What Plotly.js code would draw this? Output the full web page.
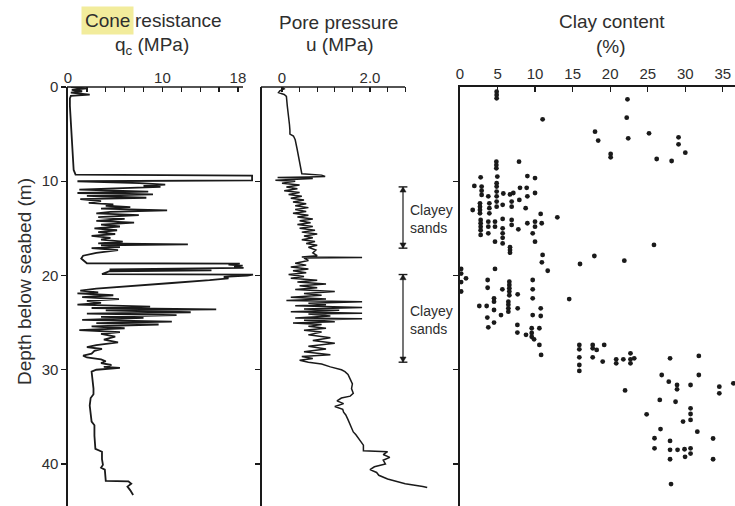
<!DOCTYPE html>
<html>
<head>
<meta charset="utf-8">
<script src="https://cdn.plot.ly/plotly-3.0.1.min.js"></script>
<style>
  html, body { margin: 0; padding: 0; background: #fff; }
  #chart { width: 735px; height: 506px; }
</style>
</head>
<body>
<div id="chart"></div>
<script>
// Cone resistance profile: depth (m) and qc (MPa)
var coneDepth = [0.0,0.15,0.3,0.45,0.6,0.8,0.95,1.2,2,3,4,5,6,7,8,8.8,9.3,9.4,9.9,10.0,
  10.2,10.35,10.5,10.6,10.75,10.9,11.1,11.25,11.4,11.55,11.75,11.9,12.1,12.3,12.45,12.6,12.75,12.9,
  13.1,13.25,13.4,13.6,13.8,14.0,14.2,14.4,14.6,14.8,15.0,15.2,15.4,15.6,15.8,16.0,16.2,16.4,16.6,
  16.7,16.8,17.0,17.1,17.3,17.6,17.9,18.2,18.5,18.7,18.75,18.85,18.95,19.1,19.2,19.35,19.45,19.55,
  19.85,19.9,20.0,20.15,20.3,20.5,20.8,21.1,21.4,21.6,21.8,21.9,22.1,22.3,22.5,22.7,22.9,23.1,23.3,
  23.45,23.6,23.7,23.9,24.05,24.2,24.4,24.5,24.7,24.9,25.05,25.2,25.4,25.6,25.8,26.0,26.2,26.5,26.8,
  27.1,27.4,27.6,27.8,28.0,28.3,28.5,28.7,28.9,29.1,29.3,29.5,29.7,29.8,30.0,30.2,31,32,32.6,33,33.8,
  34.5,35.5,35.9,37,38.4,38.7,39.5,40.1,40.4,40.6,41.8,41.85,42.1,42.4,42.8,43.3];
var coneQc = [0.3,2.0,0.4,1.5,0.3,2.3,0.3,0.2,0.2,0.25,0.3,0.35,0.4,0.45,0.5,0.6,0.8,19.5,19.5,1.0,
  7.6,10.3,8.0,9.8,5.0,1.2,8.5,1.0,9.0,2.0,8.3,1.3,3.5,2.2,4.8,4.0,6.6,3.5,
  10.5,4.5,3.0,7.5,3.2,6.0,3.0,7.0,3.5,5.5,2.8,5.2,3.2,5.0,2.5,4.5,3.5,5.8,3.2,
  12.7,3.5,5.5,2.5,5.3,3.0,1.6,1.4,1.7,2.0,18.2,17.0,18.5,17.6,18.6,4.4,15.2,4.4,
  3.6,19.6,19.0,16.5,17.0,15.0,11.0,6.5,3.0,1.3,3.2,1.0,4.8,1.5,5.4,2.0,3.5,1.0,8.7,
  2.5,15.7,4.0,13.0,2.0,11.5,3.5,8.0,1.5,11.0,3.0,9.6,2.5,6.0,1.2,5.5,3.5,5.0,3.8,
  5.3,3.0,2.0,3.6,2.8,2.5,1.6,2.0,3.5,4.0,3.5,4.6,3.8,5.5,3.0,2.5,2.6,2.7,2.7,2.4,2.3,
  2.4,2.5,2.8,2.8,2.9,3.6,3.6,3.7,3.5,3.9,4.0,6.4,6.7,6.3,6.6,6.9];

// Pore pressure profile: depth (m) and u (MPa)
var poreDepth = [0.0,0.2,0.4,0.6,0.8,1.0,2.0,3.0,4.0,4.6,5.0,5.2,5.6,6.5,7.5,8.4,9.2,9.35,9.5,9.55,
  9.6,9.7,9.8,9.9,10.0,10.2,10.4,10.6,10.8,11.0,11.2,11.4,11.6,11.8,12.0,12.2,12.4,12.6,12.8,13.0,
  13.2,13.4,13.6,13.8,14.0,14.2,14.4,14.6,14.8,15.0,15.2,15.4,15.6,15.8,16.0,16.2,16.4,16.6,16.8,
  17.0,17.3,17.6,17.9,18.05,18.1,18.15,18.4,18.7,18.9,19.1,19.3,19.5,19.7,19.9,20.1,20.3,20.5,20.7,
  20.9,21.1,21.3,21.5,21.7,21.9,22.1,22.3,22.5,22.65,22.8,22.95,23.1,23.2,23.4,23.55,23.7,23.85,
  24.0,24.1,24.3,24.5,24.6,24.75,24.9,25.05,25.2,25.4,25.6,25.8,26.0,26.3,26.6,26.9,27.2,27.5,
  27.8,28.1,28.4,28.6,28.8,29.0,29.2,29.4,29.7,30.0,30.2,30.5,31.0,31.5,32.0,32.5,32.8,33.0,33.3,
  33.6,33.9,34.2,34.5,34.8,35.3,35.8,36.3,36.6,36.9,37.4,38.0,38.6,38.7,39.0,39.3,39.6,40.0,40.3,
  40.6,40.9,41.2,41.6,42.1,42.4,42.5];
var poreU = [0.0,0.05,-0.05,-0.08,0.05,0.1,0.12,0.15,0.17,0.18,0.18,0.26,0.3,0.34,0.38,0.42,0.45,0.9,0.98,0.6,
  -0.1,0.7,0.2,-0.15,0.3,0.0,0.4,0.1,0.35,0.05,0.4,0.15,0.45,0.2,0.5,0.25,0.55,0.3,0.6,0.3,
  0.55,0.25,0.6,0.35,0.7,0.4,0.65,0.35,0.7,0.4,0.75,0.45,0.8,0.5,0.7,0.45,0.75,0.55,0.8,
  0.6,0.77,0.7,0.8,0.45,1.82,0.5,0.6,0.3,0.55,0.2,0.6,0.25,0.55,0.15,0.5,0.2,0.8,0.35,
  1.0,0.4,0.8,0.3,1.2,0.5,0.9,0.2,1.0,0.1,1.82,0.6,1.0,0.3,1.82,0.5,1.3,0.2,
  1.82,0.6,1.1,0.3,1.82,0.5,1.2,0.25,0.9,0.6,1.0,0.5,0.9,0.6,1.1,0.7,1.2,0.6,
  1.0,0.5,1.1,0.45,0.7,0.4,0.6,0.9,1.1,1.35,1.43,1.5,1.55,1.6,1.58,1.62,1.55,1.35,1.25,
  1.4,1.2,1.38,1.4,1.45,1.5,1.55,1.6,1.62,1.68,1.75,1.85,1.85,2.4,2.3,2.45,2.3,2.35,2.1,
  2.0,2.15,2.2,2.4,2.8,3.2,3.3];

// Clay content samples: depth (m) and clay (%)
var clayDepth = [0.5,0.85,1.2,3.43,1.31,3.25,5.45,4.74,5.69,7.1,7.46,4.92,7.64,7.85,5.34,6.08,6.97,
  7.92,7.92,8.28,8.63,9.58,9.5,9.45,9.66,10.5,10.57,11.0,11.45,10.2,10.57,11.1,11.6,11.6,11.3,11.4,
  11.25,10.7,10.7,11.6,11.25,11.98,
  13.05,12.34,12.7,13.05,13.4,12.34,12.86,13.4,12.16,12.7,12.5,12.16,12.7,12.86,13.47,13.83,
  14.1,14.46,14.82,15.2,15.7,14.29,14.82,15.53,14.29,14.82,14.0,15.0,15.53,16.0,16.6,14.1,14.64,
  15.1,14.46,15.53,14.29,14.82,16.41,14.46,16.41,17.0,17.3,17.58,17.82,18.6,19.5,18.78,17.93,18.43,
  16.76,19.3,19.3,19.8,20.3,20.7,21.7,20.48,21.3,21.47,20.66,21.0,21.35,21.7,22.1,22.0,20.48,21.47,
  22.42,22.5,22.42,22.78,
  23.24,23.24,23.66,22.78,23.1,23.48,23.84,23.48,24.2,23.48,24.3,24.47,24.2,25.0,25.5,25.25,26.06,
  26.3,25.6,26.1,26.5,26.77,25.6,27.37,28.43,27.37,27.83,28.68,29.5,30.13,27.37,27.73,27.9,27.37,
  28.68,29.14,28.9,29.32,28.9,28.26,28.9,29.32,28.79,32.2,28.79,28.54,30.56,31.27,31.62,32.08,31.62,
  30.56,31.8,32.5,31.44,33.2,33.4,34.1,
  34.7,34.73,35.5,35.33,36.3,36.57,37.27,37.56,37.3,38.34,38.5,38.5,38.44,38.34,38.9,39.24,39.5,
  39.5,42.13];
var clayPct = [4.88,4.88,4.88,11.0,22.3,22.2,22.4,17.98,18.4,20.06,20.06,25.17,26.19,28.18,29.1,29.1,30.0,
  7.86,4.84,4.84,4.84,2.75,4.97,8.97,9.99,1.91,2.88,2.88,2.88,4.88,4.88,4.88,4.88,3.77,5.77,6.66,
  7.1,7.99,8.88,8.97,9.99,7.9,
  1.69,2.66,2.66,2.66,2.66,3.91,3.91,3.91,4.88,4.88,5.68,6.88,6.88,8.74,10.74,12.96,
  2.75,2.75,2.75,2.75,2.75,3.77,3.77,3.77,4.66,4.66,5.68,5.68,5.68,5.68,5.68,6.88,6.88,
  7.77,8.97,9.68,9.99,9.99,9.99,10.88,4.66,6.66,6.66,6.66,11.0,10.9,11.68,15.98,17.89,21.88,
  25.83,4.66,0.15,0.15,0.8,0.15,0.15,3.68,3.68,5.64,6.57,6.57,6.57,6.57,6.57,7.68,9.68,9.68,
  9.68,14.54,4.53,4.53,
  2.57,3.55,4.53,6.44,6.44,6.44,6.44,7.68,9.68,10.75,10.75,3.64,5.46,4.53,3.77,7.64,7.64,
  8.79,9.55,9.55,9.55,9.86,10.57,10.57,10.8,15.89,15.89,15.89,15.89,15.89,17.67,17.67,18.2,19.2,
  17.67,19.0,20.8,20.8,21.75,22.7,22.7,22.7,23.2,21.98,27.97,31.8,26.86,27.8,28.9,28.9,30.7,
  31.8,34.53,34.53,36.4,26.6,28.7,30.7,
  30.7,24.85,29.7,30.7,26.7,31.6,25.9,27.97,33.7,25.9,27.97,28.97,29.9,30.7,30.7,29.97,27.97,
  33.7,28.1];

// Axis tick labels
var qcTicks = [0,2,4,6,8,10,12,14,16,18];
var qcTickText = ['0',' ',' ',' ',' ','10',' ',' ',' ','18'];
var uTicks = [0,0.4,0.8,1.2,1.6,2.0,2.4,2.8];
var uTickText = ['0',' ',' ',' ',' ','2.0',' ',' '];
var clayTicks = [0,5,10,15,20,25,30,35];
var depthTicks = [0,10,20,30,40];

// Clayey sand intervals (depth range, m)
var clayeyTop = [10.6, 19.9];
var clayeyBottom = [17.1, 29.2];
var clayeyLabel = 'Clayey<br>sands';

var W = 735, H = 506, TOP = 87;
var plotH = H - TOP;
function px(x) { return x / W; }
function py(y) { return 1 - (y - TOP) / plotH; }

var FONT = '"Liberation Sans", Arial, Helvetica, sans-serif';
var INK = '#1a1a1a';
var TXT = '#2e2e2e';
var DEPTH_MAX = 44.46;

var traces = [
  { x: coneQc, y: coneDepth, xaxis: 'x', yaxis: 'y', type: 'scatter', mode: 'lines',
    line: { color: INK, width: 1.8 }, hoverinfo: 'skip' },
  { x: poreU, y: poreDepth, xaxis: 'x2', yaxis: 'y2', type: 'scatter', mode: 'lines',
    line: { color: INK, width: 1.5 }, hoverinfo: 'skip' },
  { x: clayPct, y: clayDepth, xaxis: 'x3', yaxis: 'y3', type: 'scatter', mode: 'markers',
    marker: { color: INK, size: 4.8 }, cliponaxis: false, hoverinfo: 'skip' }
];

function xAx(domain, range, tv, tt, anchor, line) {
  return {
    domain: domain, range: range, side: 'top', anchor: anchor,
    showline: line, linecolor: INK, linewidth: 1.6,
    ticks: 'inside', ticklen: 5, tickwidth: 1.3, tickcolor: INK,
    tickmode: 'array', tickvals: tv, ticktext: tt,
    tickfont: { family: FONT, size: 15, color: TXT },
    showgrid: false, zeroline: false, fixedrange: true
  };
}
function yAx(anchor, labels) {
  return {
    domain: [0, 1], range: [DEPTH_MAX, 0], anchor: anchor,
    showline: true, linecolor: INK, linewidth: 1.6,
    ticks: 'outside', ticklen: 5, tickwidth: 1.3, tickcolor: INK,
    tickmode: 'array', tickvals: labels ? depthTicks : depthTicks.slice(1),
    showticklabels: labels,
    tickfont: { family: FONT, size: 15, color: TXT },
    showgrid: false, zeroline: false, fixedrange: true
  };
}

var shapes = [
  // top axis lines for the first two panels (the profiles run past them)
  { type: 'line', xref: 'paper', yref: 'paper', x0: px(67), x1: px(243), y0: 1, y1: 1,
    line: { color: INK, width: 1.6 } },
  { type: 'line', xref: 'paper', yref: 'paper', x0: px(261), x1: px(405), y0: 1, y1: 1,
    line: { color: INK, width: 1.6 } }
];

var annotations = [];
var bx = 2.75;
for (var i = 0; i < clayeyTop.length; i++) {
  var t = clayeyTop[i], b = clayeyBottom[i];
  shapes.push({ type: 'line', xref: 'x2', yref: 'y2', x0: bx, x1: bx, y0: t, y1: b,
    line: { color: INK, width: 1.2 } });
  shapes.push({ type: 'line', xref: 'x2', yref: 'y2', x0: bx - 0.1, x1: bx + 0.1, y0: t, y1: t,
    line: { color: INK, width: 1.4 } });
  shapes.push({ type: 'line', xref: 'x2', yref: 'y2', x0: bx - 0.1, x1: bx + 0.1, y0: b, y1: b,
    line: { color: INK, width: 1.4 } });
  shapes.push({ type: 'path', xref: 'x2', yref: 'y2',
    path: 'M' + bx + ',' + t + ' L' + (bx - 0.07) + ',' + (t + 0.55) + ' L' + (bx + 0.07) + ',' + (t + 0.55) + ' Z',
    fillcolor: INK, line: { color: INK, width: 0.5 } });
  shapes.push({ type: 'path', xref: 'x2', yref: 'y2',
    path: 'M' + bx + ',' + b + ' L' + (bx - 0.07) + ',' + (b - 0.55) + ' L' + (bx + 0.07) + ',' + (b - 0.55) + ' Z',
    fillcolor: INK, line: { color: INK, width: 0.5 } });
  annotations.push({ xref: 'x2', yref: 'y2', x: 2.86, y: (t + b) / 2 + 0.15, xanchor: 'left',
    yanchor: 'middle', align: 'left', showarrow: false, text: clayeyLabel,
    font: { family: FONT, size: 14, color: TXT } });
}

function title(text, x, y, extra) {
  var a = { xref: 'paper', yref: 'paper', x: px(x), y: py(y), xanchor: 'center', yanchor: 'middle',
    showarrow: false, text: text, font: { family: FONT, size: 19, color: TXT } };
  for (var k in (extra || {})) a[k] = extra[k];
  return a;
}
annotations.push(title('Cone', 134, 20, { xanchor: 'right', bgcolor: '#f2ec9c', borderpad: 3 }));
annotations.push(title('resistance', 134, 20, { xanchor: 'left', borderpad: 0 }));
annotations.push(title('q<sub>c</sub> (MPa)', 152, 46));
annotations.push(title('Pore pressure', 338, 22));
annotations.push(title('u (MPa)', 340, 45));
annotations.push(title('Clay content', 612, 21));
annotations.push(title('(%)', 611, 46));
annotations.push(title('Depth below seabed (m)', 24, 282, { textangle: -90 }));

var layout = {
  width: W, height: H,
  margin: { l: 0, r: 0, t: TOP, b: 0, pad: 0 },
  paper_bgcolor: '#ffffff', plot_bgcolor: '#ffffff',
  showlegend: false,
  font: { family: FONT, color: TXT },
  xaxis: xAx([px(68), px(255)], [0, (255 - 68) / 9.44], qcTicks, qcTickText, 'y', false),
  yaxis: yAx('x', true),
  xaxis2: xAx([px(262), px(430)], [(262 - 282) / 44, (430 - 282) / 44], uTicks, uTickText, 'y2', false),
  yaxis2: yAx('x2', false),
  xaxis3: xAx([px(460), 1], [0, (735 - 460) / 7.51], clayTicks, clayTicks.map(String), 'y3', true),
  yaxis3: yAx('x3', false),
  shapes: shapes,
  annotations: annotations
};

Plotly.newPlot('chart', traces, layout, { staticPlot: true, displayModeBar: false });
</script>
</body>
</html>
